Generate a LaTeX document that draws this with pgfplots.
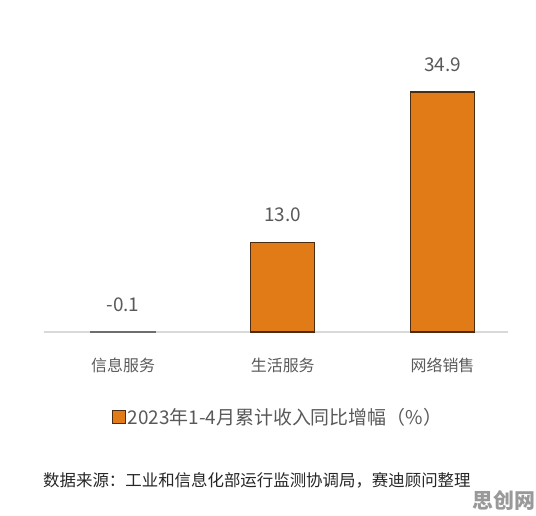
\documentclass[border=0pt]{standalone}
\usepackage{fontspec}
\setmainfont{Noto Sans CJK SC}
\usepackage{pgfplots}
\pgfplotsset{compat=1.18}
\definecolor{barfill}{HTML}{E07B17}
\definecolor{baredge}{HTML}{4A2C12}
\definecolor{txt}{HTML}{595959}
\definecolor{src}{HTML}{262626}
\definecolor{zl}{HTML}{D9D9D9}
\definecolor{negbar}{HTML}{6E6E6E}
\begin{document}
\begin{tikzpicture}[x=1bp,y=1bp]
\useasboundingbox (0,0) rectangle (536,516);
\begin{axis}[
  at={(44bp,180.56bp)}, anchor=south west,
  scale only axis, width=464bp, height=278.6bp,
  xmin=-0.495, xmax=2.41, ymin=-0.5, ymax=40,
  axis line style={draw=none},
  major tick style={draw=none},
  ytick=\empty,
  xtick={0,1,2},
  xticklabels={信息服务,生活服务,网络销售},
  xticklabel style={font=\fontsize{16}{16}\selectfont, text=txt, inner sep=0pt, anchor=north, yshift=-18bp},
  extra y ticks={0},
  extra y tick labels={},
  extra y tick style={grid=major, major grid style={draw=zl, line width=1.5bp}, major tick style={draw=none}},
  ybar, bar width=64bp, bar shift=0pt,
  /pgf/number format/.cd, fixed, fixed zerofill, precision=1, assume math mode=true,
  /pgfplots/.cd,
  nodes near coords,
  nodes near coords align={above},
  every node near coord/.append style={anchor=south, inner sep=0pt, yshift=20bp, font=\fontsize{19}{19}\selectfont, text=txt},
  legend style={at={(axis description cs:0.504,-0.293)}, anchor=center, draw=none, fill=none, font=\fontsize{19}{19}\selectfont, text=txt},
  legend image code/.code={\draw[#1, line width=1bp] (0bp,-6.5bp) rectangle (13bp,6.5bp);},
]
\addplot[fill=negbar, draw=negbar, line width=1.6bp, forget plot] coordinates {(0,-0.1)};
\addplot[fill=barfill, draw=baredge, line width=1.2bp] coordinates {(1,13.0) (2,34.9)};
\addlegendentry{2023年1-4月累计收入同比增幅（\%）}
\end{axis}
\node[anchor=west, inner sep=0pt, font=\fontsize{16.5}{16.5}\selectfont, text=src] at (43,36) {数据来源：工业和信息化部运行监测协调局，赛迪顾问整理};
\node[font=\bfseries\fontsize{21}{21}\selectfont, text=black!40] at (504,16) {思创网};
\end{tikzpicture}
\end{document}
